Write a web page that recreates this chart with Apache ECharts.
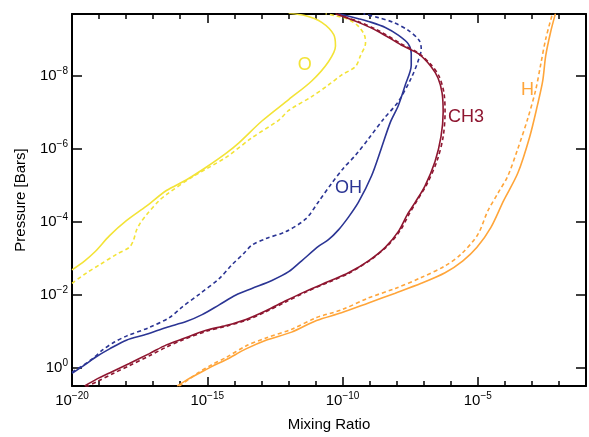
<!DOCTYPE html>
<html>
<head>
<meta charset="utf-8">
<script src="https://cdn.jsdelivr.net/npm/echarts@6/dist/echarts.min.js"></script>
<style>
  html, body { margin: 0; padding: 0; background: #fff; }
  #chart { width: 589px; height: 437px; }
</style>
</head>
<body>
<div id="chart"></div>
<script>
// all values are log10: mixing ratio (x) and pressure in bars (y)
const xMin = -20
const xMax = -1
const pMin = -9.71
const pMax = 0.51

const oSolidX = [-20.0, -19.53, -19.16, -18.61, -17.99, -17.25, -16.51, -15.78, -15.04, -14.31, -13.83, -12.98, -11.99, -11.14, -10.52, -10.26, -10.33, -10.77, -11.36, -11.99]
const oSolidP = [-2.68, -2.93, -3.17, -3.62, -4.03, -4.43, -4.86, -5.15, -5.50, -5.88, -6.17, -6.77, -7.36, -7.87, -8.40, -8.83, -9.15, -9.48, -9.66, -9.73]
const oDashX = [-20.0, -19.46, -18.98, -18.35, -17.88, -17.73, -17.62, -17.47, -17.25, -16.77, -16.51, -15.56, -14.31, -13.35, -12.36, -11.99, -11.14, -10.52, -10.04, -9.52, -9.34, -9.15, -9.19, -9.41, -9.78, -10.26, -10.63]
const oDashP = [-2.31, -2.60, -2.82, -3.11, -3.30, -3.49, -3.76, -3.97, -4.19, -4.59, -4.75, -5.23, -5.77, -6.31, -6.79, -7.06, -7.44, -7.76, -8.03, -8.27, -8.56, -8.91, -9.13, -9.37, -9.56, -9.66, -9.72]

const ohSolidX = [-20.0, -19.61, -19.09, -18.61, -17.99, -17.25, -16.51, -15.78, -15.19, -14.56, -13.94, -13.35, -12.61, -11.99, -11.51, -10.88, -10.52, -10.15, -9.78, -9.41, -8.93, -8.57, -8.23, -7.94, -7.68, -7.46, -7.46, -7.57, -7.94, -8.42, -8.93, -9.41, -10.15]
const ohSolidP = [0.16, -0.03, -0.30, -0.51, -0.75, -0.91, -1.10, -1.26, -1.45, -1.72, -1.99, -2.17, -2.39, -2.63, -2.93, -3.33, -3.51, -3.78, -4.13, -4.54, -5.26, -6.01, -6.74, -7.19, -7.76, -8.30, -8.62, -8.89, -9.13, -9.34, -9.48, -9.58, -9.72]
const ohDashX = [-20.0, -19.61, -19.24, -18.87, -18.43, -17.99, -17.14, -16.40, -15.93, -15.30, -14.56, -14.09, -13.64, -13.35, -12.83, -12.10, -11.36, -10.88, -10.41, -9.96, -9.52, -9.04, -8.49, -7.94, -7.46, -7.20, -7.09, -7.17, -7.57, -8.12, -8.68, -9.23]
const ohDashP = [0.13, -0.05, -0.24, -0.48, -0.70, -0.86, -1.10, -1.37, -1.66, -2.01, -2.44, -2.82, -3.14, -3.36, -3.54, -3.73, -4.08, -4.56, -5.05, -5.48, -5.83, -6.28, -6.82, -7.30, -7.95, -8.43, -8.75, -8.99, -9.26, -9.48, -9.61, -9.72]

const ch3SolidX = [-19.53, -19.09, -18.50, -17.88, -17.14, -16.51, -15.93, -15.04, -14.31, -13.57, -12.83, -12.10, -11.36, -10.52, -9.78, -9.04, -8.42, -7.94, -7.61, -7.31, -6.95, -6.58, -6.36, -6.28, -6.32, -6.47, -6.73, -7.20, -7.83, -8.68, -9.41, -10.26]
const ch3SolidP = [0.51, 0.32, 0.11, -0.11, -0.38, -0.62, -0.78, -1.02, -1.15, -1.32, -1.56, -1.83, -2.09, -2.36, -2.60, -2.93, -3.30, -3.73, -4.19, -4.54, -4.99, -5.66, -6.34, -7.01, -7.54, -7.95, -8.27, -8.62, -8.86, -9.23, -9.48, -9.72]
const ch3DashX = [-19.49, -19.05, -18.46, -17.88, -17.14, -16.51, -15.93, -15.04, -14.31, -13.57, -12.83, -12.10, -11.36, -10.52, -9.78, -8.97, -8.35, -7.87, -7.54, -7.24, -6.87, -6.50, -6.28, -6.21, -6.25, -6.43, -6.73, -7.20, -7.83, -8.68, -9.41, -10.26]
const ch3DashP = [0.54, 0.38, 0.16, -0.05, -0.32, -0.56, -0.75, -0.99, -1.13, -1.29, -1.53, -1.80, -2.07, -2.34, -2.58, -2.95, -3.33, -3.76, -4.21, -4.59, -5.05, -5.69, -6.34, -7.01, -7.54, -8.00, -8.32, -8.64, -8.89, -9.26, -9.50, -9.72]

const hSolidX = [-16.11, -15.71, -15.30, -14.82, -14.31, -13.57, -12.83, -11.88, -10.96, -10.04, -9.04, -8.05, -7.09, -6.21, -5.55, -5.03, -4.52, -4.04, -3.52, -3.08, -2.79, -2.60, -2.49, -2.31, -2.13]
const hSolidP = [0.51, 0.32, 0.16, -0.03, -0.21, -0.51, -0.75, -0.97, -1.29, -1.50, -1.77, -2.04, -2.31, -2.60, -2.93, -3.30, -3.84, -4.59, -5.34, -6.34, -7.22, -7.87, -8.56, -9.21, -9.72]
const hDashX = [-16.04, -15.67, -15.30, -14.82, -14.31, -13.57, -12.83, -11.88, -10.96, -10.04, -9.04, -8.05, -7.09, -6.21, -5.62, -5.00, -4.63, -4.26, -3.89, -3.52, -3.16, -2.86, -2.68, -2.49, -2.24]
const hDashP = [0.51, 0.32, 0.13, -0.08, -0.27, -0.59, -0.81, -1.05, -1.37, -1.58, -1.91, -2.17, -2.47, -2.79, -3.11, -3.65, -4.30, -4.78, -5.26, -6.01, -6.82, -7.62, -8.30, -9.02, -9.72]

const labelNames = ['O', 'OH', 'CH3', 'H']
const labelX = [-11.40, -9.78, -5.44, -3.16]
const labelP = [-8.30, -4.94, -6.87, -7.62]

const colors = {
  O: '#f3e337',
  OH: '#2b3594',
  CH3: '#8e1630',
  H: '#ffa53a'
}

const FONT = 'Liberation Sans, Arial, sans-serif'

function zip(xs, ys) {
  return xs.map((x, i) => [x, ys[i]])
}

function profile(name, xs, ys, dashed) {
  return {
    type: 'line',
    name: name,
    data: zip(xs, ys),
    showSymbol: false,
    symbol: 'none',
    smooth: 0.3,
    lineStyle: {
      color: colors[name],
      width: 1.6,
      type: dashed ? [4, 3] : 'solid'
    }
  }
}

function powLabel(v) {
  return '{b|10}{s|' + String(v).replace('-', '\u2212') + '}'
}

const richStyle = {
  b: { fontSize: 15, fontFamily: FONT, color: '#000' },
  s: { fontSize: 10, fontFamily: FONT, color: '#000', padding: [0, 0, 9, 0] }
}

function xAxisOf(position, interval, tickLen, withLabels) {
  return {
    type: 'value',
    position: position,
    min: xMin,
    max: xMax,
    interval: interval,
    splitLine: { show: false },
    axisLine: { show: interval === 1, onZero: false, lineStyle: { color: '#000', width: 2 } },
    axisTick: { show: true, inside: true, length: tickLen, lineStyle: { color: '#000', width: 1.5 } },
    axisLabel: {
      show: withLabels,
      margin: 5,
      formatter: v => (v % 5 === 0 ? powLabel(v) : ''),
      rich: richStyle
    },
    name: withLabels ? 'Mixing Ratio' : '',
    nameLocation: 'middle',
    nameGap: 31,
    nameTextStyle: { color: '#000', fontSize: 15, fontFamily: FONT }
  }
}

function yAxisOf(position, withLabels) {
  return {
    type: 'value',
    position: position,
    inverse: true,
    min: pMin,
    max: pMax,
    splitNumber: 5,
    splitLine: { show: false },
    axisLine: { show: true, onZero: false, lineStyle: { color: '#000', width: 2 } },
    axisTick: { show: true, inside: true, length: 10, lineStyle: { color: '#000', width: 1.5 } },
    axisLabel: {
      show: withLabels,
      margin: 4,
      formatter: v => (Number.isInteger(v) && v % 2 === 0 ? powLabel(v) : ''),
      rich: richStyle
    },
    name: withLabels ? 'Pressure [Bars]' : '',
    nameLocation: 'middle',
    nameGap: 44,
    nameTextStyle: { color: '#000', fontSize: 15, fontFamily: FONT }
  }
}

function initChart() {
  const chart = echarts.init(document.getElementById('chart'), null, { renderer: 'canvas' })

  const series = [
    profile('O', oSolidX, oSolidP, false),
    profile('O', oDashX, oDashP, true),
    profile('OH', ohSolidX, ohSolidP, false),
    profile('OH', ohDashX, ohDashP, true),
    profile('CH3', ch3SolidX, ch3SolidP, false),
    profile('CH3', ch3DashX, ch3DashP, true),
    profile('H', hSolidX, hSolidP, false),
    profile('H', hDashX, hDashP, true),
    {
      type: 'scatter',
      symbolSize: 1,
      itemStyle: { color: 'rgba(0,0,0,0)' },
      data: labelNames.map((n, i) => ({
        name: n,
        value: [labelX[i], labelP[i]],
        label: { color: colors[n] }
      })),
      label: {
        show: true,
        position: 'inside',
        formatter: p => p.name,
        fontSize: 18,
        fontFamily: FONT,
        textBorderWidth: 0,
        opacity: 1
      }
    }
  ]

  chart.setOption({
    animation: false,
    backgroundColor: '#fff',
    grid: { left: 72, right: 1, top: 14, bottom: 43, containLabel: false },
    xAxis: [
      xAxisOf('bottom', 1, 5, true),
      xAxisOf('bottom', 5, 9, false),
      xAxisOf('top', 1, 5, false),
      xAxisOf('top', 5, 9, false)
    ],
    yAxis: [
      yAxisOf('left', true),
      yAxisOf('right', false)
    ],
    series: series
  })
}

initChart()
</script>
</body>
</html>
